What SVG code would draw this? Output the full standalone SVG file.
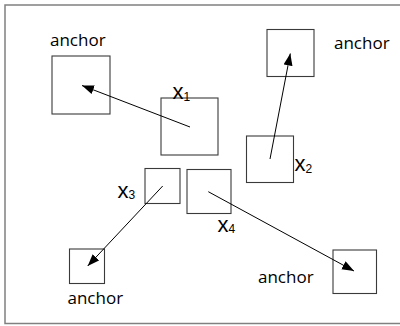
<svg xmlns="http://www.w3.org/2000/svg" width="400" height="326" viewBox="0 0 400 326">
<defs>
<style>
.frame{fill:#fff;stroke:#808080;stroke-width:1.5}
.box{fill:none;stroke:#3a3a3a;stroke-width:1.1}
.lbl{font-family:"Open Sans","DejaVu Sans",sans-serif;font-size:17px;fill:#000}
.var{font-family:"Liberation Sans",Arial,sans-serif;font-size:22px;fill:#000}
.sub{font-size:12px}
.arr{stroke:#000;stroke-width:1;fill:none;marker-end:url(#ah)}
</style>
<marker id="ah" markerUnits="userSpaceOnUse" markerWidth="13" markerHeight="10" refX="12" refY="4.5" orient="auto">
<path d="M0,0 L12,4.5 L0,9 z" fill="#000"/>
</marker>
</defs>
<rect class="frame" x="5" y="5" width="402" height="318.5"/>
<g id="anchor1">
<rect class="box" x="52" y="56" width="58" height="58"/>
<text class="lbl" x="50" y="46">anchor</text>
</g>
<g id="anchor2">
<rect class="box" x="267" y="29.5" width="47" height="47"/>
<text class="lbl" x="334" y="48.5">anchor</text>
</g>
<g id="anchor3">
<rect class="box" x="69.5" y="249" width="35" height="34.5"/>
<text class="lbl" x="67.5" y="304">anchor</text>
</g>
<g id="anchor4">
<rect class="box" x="333" y="250" width="43.5" height="43.5"/>
<text class="lbl" x="258" y="283">anchor</text>
</g>
<g id="x1">
<rect class="box" x="161" y="98" width="57" height="57"/>
<text class="var" x="172.5" y="99">x<tspan class="sub" dy="1.5">1</tspan></text>
</g>
<g id="x2">
<rect class="box" x="246.5" y="136" width="47" height="46.5"/>
<text class="var" x="294.5" y="171">x<tspan class="sub" dy="1.5">2</tspan></text>
</g>
<g id="x3">
<rect class="box" x="145" y="168.5" width="35" height="35"/>
<text class="var" x="117.5" y="197.5">x<tspan class="sub" dy="1.5">3</tspan></text>
</g>
<g id="x4">
<rect class="box" x="187" y="169.5" width="44" height="44"/>
<text class="var" x="217.5" y="231.5">x<tspan class="sub" dy="1.5">4</tspan></text>
</g>
<g id="connectors">
<line class="arr" x1="190" y1="127" x2="82" y2="85.5"/>
<line class="arr" x1="270" y1="159" x2="290.3" y2="53.5"/>
<line class="arr" x1="162.7" y1="186" x2="87.7" y2="266"/>
<line class="arr" x1="208.3" y1="191.7" x2="354" y2="271"/>
</g>
</svg>
